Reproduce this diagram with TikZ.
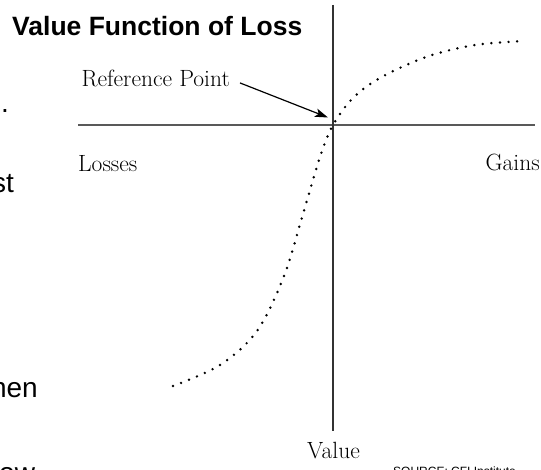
\documentclass[tikz,border=0pt]{standalone}
\usepackage{fontspec}
\usetikzlibrary{arrows.meta}
\newfontfamily\headfont{Liberation Sans}

\begin{document}
\begin{tikzpicture}[
    x=1pt, y=-1pt,
    vline/.style={line width=1.3pt, draw=black!80},
    hline/.style={line width=2pt, draw=black!65},
    dotcurve/.style={line width=2.7pt, line cap=round, dash pattern=on 0pt off 8.6pt},
    pointer/.style={-{Stealth[length=13pt,width=8.5pt,inset=3pt]}, line width=1.2pt},
    axislabel/.style={inner sep=0pt, font=\fontsize{23.5}{26}\selectfont},
    frag/.style={inner sep=0pt, font=\headfont\fontsize{28}{32}\selectfont}
]
    \useasboundingbox (0,0) rectangle (541,470);
    \clip (0,0) rectangle (541,470);

    % axes
    \coordinate (vtop) at (333,5);
    \coordinate (vbot) at (333,431);
    \coordinate (hleft) at (78,125.5);
    \coordinate (hright) at (535,125.5);
    \coordinate (refpt) at (328,117.5);
    \draw[hline] (hleft) -- (hright);
    \draw[vline] (vtop) -- (vbot);

    \node[anchor=base west, inner sep=0pt, font=\headfont\bfseries\fontsize{26.5}{30}\selectfont] (title) at (12,36) {Value Function of Loss};
    \node[axislabel, anchor=base east] (ref) at (230,87) {Reference Point};
    \node[axislabel, anchor=base west] (losses) at (78,172) {Losses};
    \node[axislabel, anchor=base east] (gains) at (540,171) {Gains};
    \node[axislabel, anchor=base] (value) at (333.5,458) {Value};

    \draw[pointer] ([shift={(10,4)}]ref.east) -- (refpt);

    % value curve
    \draw[dotcurve] plot[smooth, tension=0.55] coordinates {(173,386) (220,365) (257,331) (284,276) (303,214) (320,157) (333,125) (353,98) (380,78) (426,57) (475,45) (525,41)};

    % cut-off page text
    \node[frag, anchor=base east] (fdot) at (9,113) {.};
    \node[frag, anchor=base east] (fst) at (14,193) {st};
    \node[frag, anchor=base east] (fhen) at (38,397) {hen};
    \node[frag, anchor=base west] (fow) at (-1,482.5) {ow};
    \node[anchor=north west, inner sep=0pt, font=\headfont\fontsize{12}{14}\selectfont] (source) at (393,467) {SOURCE: CFI Institute};
\end{tikzpicture}
\end{document}
